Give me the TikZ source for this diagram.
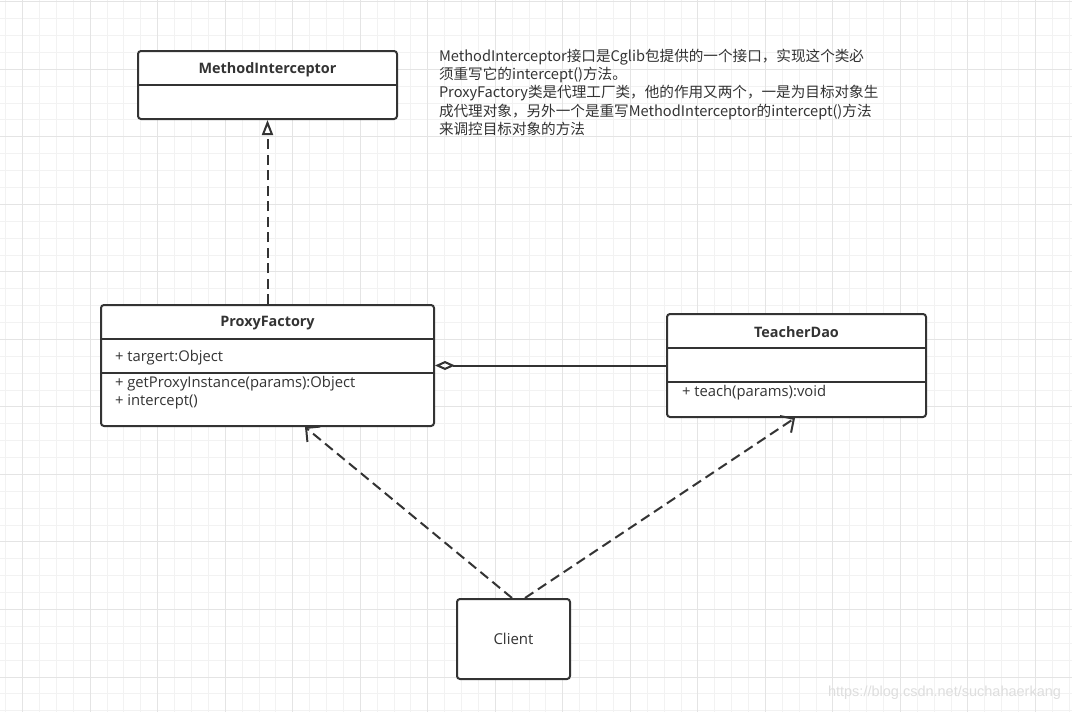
\documentclass[tikz,border=0pt]{standalone}
\usepackage{fontspec}
\setmainfont{Open Sans}
\newfontfamily\cjkfont{Noto Sans CJK SC}
\newfontfamily\wmfont{Liberation Sans}
\usetikzlibrary{arrows.meta}
\definecolor{umlgray}{HTML}{333333}
\definecolor{gridminor}{HTML}{F2F2F2}
\definecolor{gridmajor}{HTML}{E4E4E4}

\begin{document}
\begin{tikzpicture}[x=1pt,y=-1pt,line width=2pt,
    umlbox/.style={draw=umlgray, fill=white, rounded corners=3pt, inner sep=0pt},
    classname/.style={font=\bfseries\fontsize{14.4}{17}\selectfont, text=umlgray, inner sep=0pt},
    member/.style={anchor=west, font=\fontsize{14.8}{17}\selectfont, text=umlgray, inner sep=0pt},
    dep/.style={umlgray, dash pattern=on 10pt off 5.5pt, -{Straight Barb[length=10pt,width=20pt]}}]
    \fill[white] (0,0) rectangle (1072,712);
    \useasboundingbox (0,0) rectangle (1072,712);
    % grid
    \foreach \i in {-1,...,62} \draw[gridminor, line width=1pt] ({22.7+16.88*\i},0) -- ++(0,712);
    \foreach \i in {0,...,42} \draw[gridminor, line width=1pt] (0,{1.8+16.88*\i}) -- ++(1072,0);
    \foreach \i in {0,...,15} \draw[gridmajor, line width=1pt] ({22.7+67.52*\i},0) -- ++(0,712);
    \foreach \i in {0,...,10} \draw[gridmajor, line width=1pt] (0,{1.8+67.52*\i}) -- ++(1072,0);

    % classes
    \node[umlbox, minimum width=259pt, minimum height=68pt] (mi) at (267.5,85) {};
    \node[classname] (mititle) at (267.5,69.5) {MethodInterceptor};
    \draw[umlgray] (mi.west |- 0,84.5) -- (mi.east |- 0,84.5);

    \node[umlbox, minimum width=333pt, minimum height=121pt] (pf) at (267.5,365.5) {};
    \node[classname] (pftitle) at (267.5,323.5) {ProxyFactory};
    \draw[umlgray] (pf.west |- 0,339) -- (pf.east |- 0,339);
    \draw[umlgray] (pf.west |- 0,373) -- (pf.east |- 0,373);
    \node[member] (pfattr) at (114,358) {+ targert:Object};
    \node[member] (pfget) at (114,384) {+ getProxyInstance(params):Object};
    \node[member] (pfint) at (114,402) {+ intercept()};

    \node[umlbox, minimum width=259pt, minimum height=103pt] (td) at (796.5,365.5) {};
    \node[classname] (tdtitle) at (796.5,332.5) {TeacherDao};
    \draw[umlgray] (td.west |- 0,348) -- (td.east |- 0,348);
    \draw[umlgray] (td.west |- 0,382) -- (td.east |- 0,382);
    \node[member] (tdteach) at (681,393) {+ teach(params):void};

    \node[umlbox, minimum width=113pt, minimum height=80pt, font=\fontsize{15}{17}\selectfont, text=umlgray] (cl) at (513.5,639) {Client};

    % relations
    \draw[umlgray, dash pattern=on 10pt off 5.5pt, -{Triangle[open,length=15pt,width=11pt]}] (pf.north) -- (mi.south);
    \draw[umlgray, {Diamond[open,length=20pt,width=9pt]}-] (pf.east) -- (td.west);
    \draw[dep] ([xshift=-1.5pt]cl.north) -- ([xshift=37.5pt]pf.south);
    \draw[dep] ([xshift=11.5pt]cl.north) -- ([xshift=-1.5pt]td.south);

    % note
    \node[anchor=north west, align=left, inner sep=0pt, text=umlgray,
      font=\cjkfont\fontsize{14.6}{18.3}\selectfont] (note) at (438,48)
      {MethodInterceptor接口是Cglib包提供的一个接口，实现这个类必\\
       须重写它的intercept()方法。\\
       ProxyFactory类是代理工厂类，他的作用又两个，一是为目标对象生\\
       成代理对象，另外一个是重写MethodInterceptor的intercept()方法\\
       来调控目标对象的方法};

    \node[anchor=east, inner sep=0pt, text=black!13, font=\wmfont\fontsize{14.5}{16}\selectfont] (wm) at (1062,693) {https://blog.csdn.net/suchahaerkang};
\end{tikzpicture}
\end{document}
